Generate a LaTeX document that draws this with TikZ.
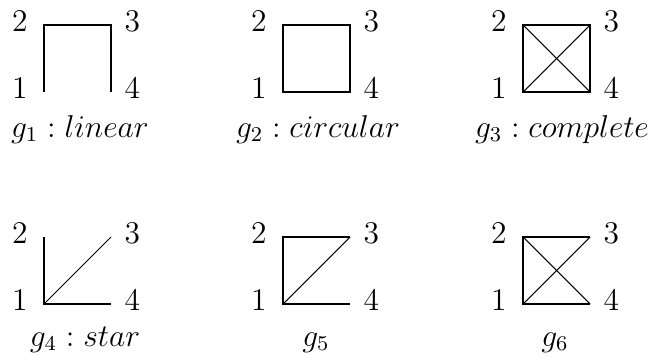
\documentclass[tikz,border=0pt]{standalone}
\tikzset{
  sideline/.style={thick},
  diagline/.style={thin},
  vlabel/.style={inner sep=0pt, font=\large},
  glabel/.style={anchor=base, inner sep=0pt, font=\large}
}
\begin{document}
\begin{tikzpicture}[x=0.38pt,y=0.38pt]
  \useasboundingbox (0,0) rectangle (656,361);
  % four vertices of every graph
  \foreach \g/\x/\y in {1/44/269, 2/283/269, 3/523/269, 4/44/57, 5/283/57, 6/523/57} {
    \coordinate (g\g-1) at (\x,\y);
    \coordinate (g\g-2) at (\x,\y+67);
    \coordinate (g\g-3) at (\x+67,\y+67);
    \coordinate (g\g-4) at (\x+67,\y);
    \node[vlabel, left=6pt, yshift=1.5pt] (n\g-1) at (g\g-1) {1};
    \node[vlabel, left=6pt, yshift=1.5pt] (n\g-2) at (g\g-2) {2};
    \node[vlabel, right=5pt, yshift=1.5pt] (n\g-3) at (g\g-3) {3};
    \node[vlabel, right=5pt, yshift=1.5pt] (n\g-4) at (g\g-4) {4};
  }
  % g1
  \draw[sideline] (g1-1) -- (g1-2) -- (g1-3) -- (g1-4);
  % g2
  \draw[sideline] (g2-1) -- (g2-2) -- (g2-3) -- (g2-4) -- cycle;
  % g3
  \draw[sideline] (g3-1) -- (g3-2) -- (g3-3) -- (g3-4) -- cycle;
  \draw[diagline] (g3-1) -- (g3-3);
  \draw[diagline] (g3-2) -- (g3-4);
  % g4
  \draw[sideline] (g4-2) -- (g4-1) -- (g4-4);
  \draw[diagline] (g4-1) -- (g4-3);
  % g5
  \draw[sideline] (g5-3) -- (g5-2) -- (g5-1) -- (g5-4);
  \draw[diagline] (g5-1) -- (g5-3);
  % g6
  \draw[sideline] (g6-3) -- (g6-2) -- (g6-1) -- (g6-4);
  \draw[diagline] (g6-1) -- (g6-3);
  \draw[diagline] (g6-2) -- (g6-4);
  % names
  \node[glabel] (t1) at (80,224) {$g_1 : linear$};
  \node[glabel] (t2) at (318,224) {$g_2 : circular$};
  \node[glabel] (t3) at (562,224) {$g_3 : complete$};
  \node[glabel] (t4) at (85,15) {$g_4 : star$};
  \node[glabel] (t5) at (316,15) {$g_5$};
  \node[glabel] (t6) at (555,15) {$g_6$};
\end{tikzpicture}
\end{document}
